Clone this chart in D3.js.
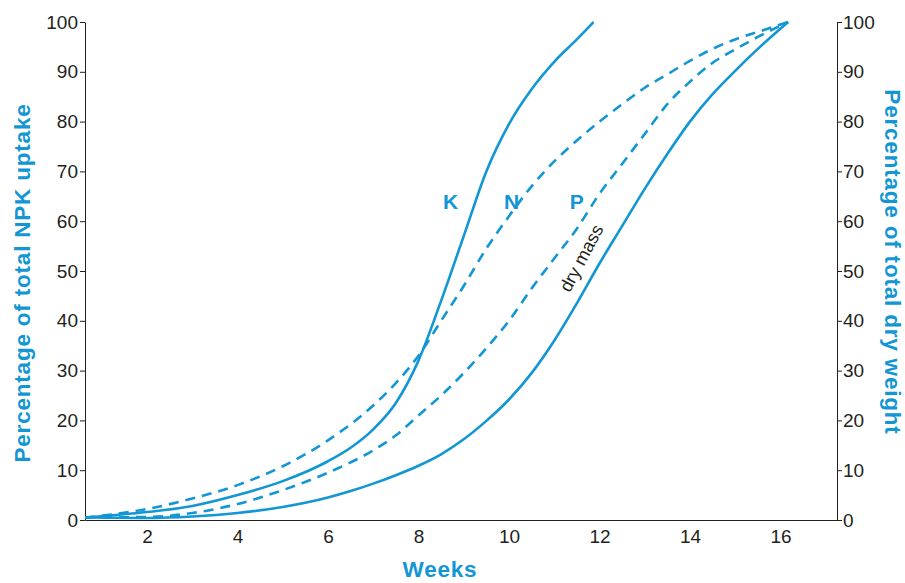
<!DOCTYPE html>
<html>
<head>
<meta charset="utf-8">
<script src="https://cdn.jsdelivr.net/npm/d3@7"></script>
<style>
  body { margin: 0; background: #fff; }
  svg { display: block; font-family: "Liberation Sans", Arial, sans-serif; }
  .axis path, .axis line { stroke: #231f20; stroke-width: 1; }
  .axis text { font-size: 19px; fill: #231f20; font-family: "Liberation Sans", Arial, sans-serif; }
  .curve { fill: none; stroke: #1296d4; stroke-width: 2.6; }
  .title { fill: #1296d4; font-weight: bold; font-size: 22.5px; letter-spacing: 0.8px; }
</style>
</head>
<body>
<svg width="905" height="583"></svg>
<script>
// values: [week, percent]
var kUptake = [[0.63,0.5],[2,1.6],[3,2.8],[4,5],[5,7.8],[6,11.8],[6.5,14.5],[7,18.2],[7.5,23.5],[8,32],[8.5,44],[9,57],[9.5,70],[10,79.5],[10.5,86.5],[11,92],[11.5,96.5],[11.87,100]];
var nUptake = [[0.63,0.5],[2,2.2],[3,4.3],[4,7],[5,10.8],[6,16],[7,23],[7.5,27.5],[8,33],[8.5,40],[9,47],[9.5,54.5],[10,61],[10.5,67],[11,72],[11.5,76.2],[12,80],[12.5,83.5],[13,86.8],[13.5,89.5],[14,92.2],[14.5,94.6],[15,96.5],[15.5,98],[16.17,100]];
var pUptake = [[0.63,0.5],[2,0.6],[3,1.4],[4,3.2],[5,6],[6,9.5],[7,14],[7.5,17],[8,21],[8.5,25],[9,29.5],[9.5,34.5],[10,40],[10.5,46.5],[11,52.5],[11.5,58.5],[12,65.5],[12.5,71.5],[13,77.5],[13.5,83.5],[14,88],[14.5,91.8],[15,94.5],[15.5,97],[16.17,100]];
var dryMass = [[0.63,0.5],[2,0.4],[3,0.7],[4,1.4],[5,2.6],[6,4.5],[6.5,5.8],[7,7.3],[7.5,9],[8,10.9],[8.5,13.2],[9,16.2],[9.5,19.9],[10,24.2],[10.5,29.5],[11,36],[11.5,43.5],[12,51.5],[12.5,59],[13,66.5],[13.5,73.5],[14,80],[14.5,85.5],[15,90.2],[15.5,94.6],[16.17,100]];

var weekTicks = [2, 4, 6, 8, 10, 12, 14, 16];
var percentTicks = [0, 10, 20, 30, 40, 50, 60, 70, 80, 90, 100];

var svg = d3.select("svg"),
    margin = {top: 22, right: 68, bottom: 63, left: 85},
    width = svg.attr("width") - margin.left - margin.right,
    height = svg.attr("height") - margin.top - margin.bottom,
    g = svg.append("g")
      .attr("transform", "translate(" + margin.left + "," + margin.top + ")");

var x = d3.scaleLinear().domain([0.63, 17.25]).range([0, width]);
var y = d3.scaleLinear().domain([0, 100]).range([height, 0]);

// axes
g.append("g")
    .attr("class", "axis")
    .attr("transform", "translate(0," + height + ")")
    .call(d3.axisBottom(x).tickValues(weekTicks).tickSize(0).tickPadding(10).tickSizeOuter(0));

g.append("g")
    .attr("class", "axis")
    .call(d3.axisLeft(y).tickValues(percentTicks).tickSize(5).tickPadding(2).tickSizeOuter(0));

g.append("g")
    .attr("class", "axis")
    .attr("transform", "translate(" + width + ",0)")
    .call(d3.axisRight(y).tickValues(percentTicks).tickSize(5).tickPadding(1).tickSizeOuter(0));

var line = d3.line()
    .curve(d3.curveMonotoneX)
    .x(function(d) { return x(d[0]); })
    .y(function(d) { return y(d[1]); });

var curves = [
  {data: kUptake, dash: null},
  {data: nUptake, dash: "10,7"},
  {data: pUptake, dash: "10,7"},
  {data: dryMass, dash: null}
];

g.selectAll(".curve")
    .data(curves)
    .enter().append("path")
    .attr("class", "curve")
    .attr("d", function(d) { return line(d.data); })
    .attr("stroke-dasharray", function(d) { return d.dash; });

// curve labels
var labels = [{t: "K", w: 8.71}, {t: "N", w: 10.06}, {t: "P", w: 11.5}];
g.selectAll(".lbl")
    .data(labels)
    .enter().append("text")
    .attr("class", "title")
    .attr("x", function(d) { return x(d.w); })
    .attr("y", y(62.4))
    .attr("text-anchor", "middle")
    .style("font-size", "21px")
    .style("letter-spacing", "0px")
    .text(function(d) { return d.t; });

g.append("text")
    .attr("transform", "translate(" + x(11.72) + "," + y(52) + ") rotate(-62)")
    .attr("text-anchor", "middle")
    .style("font-size", "18px")
    .attr("fill", "#231f20")
    .text("dry mass");

// axis titles
svg.append("text")
    .attr("class", "title")
    .attr("x", 440)
    .attr("y", 577)
    .attr("text-anchor", "middle")
    .text("Weeks");

svg.append("text")
    .attr("class", "title")
    .attr("transform", "translate(30,283) rotate(-90)")
    .attr("text-anchor", "middle")
    .text("Percentage of total NPK uptake");

svg.append("text")
    .attr("class", "title")
    .attr("transform", "translate(885,262) rotate(90)")
    .attr("text-anchor", "middle")
    .text("Percentage of total dry weight");
</script>
</body>
</html>
